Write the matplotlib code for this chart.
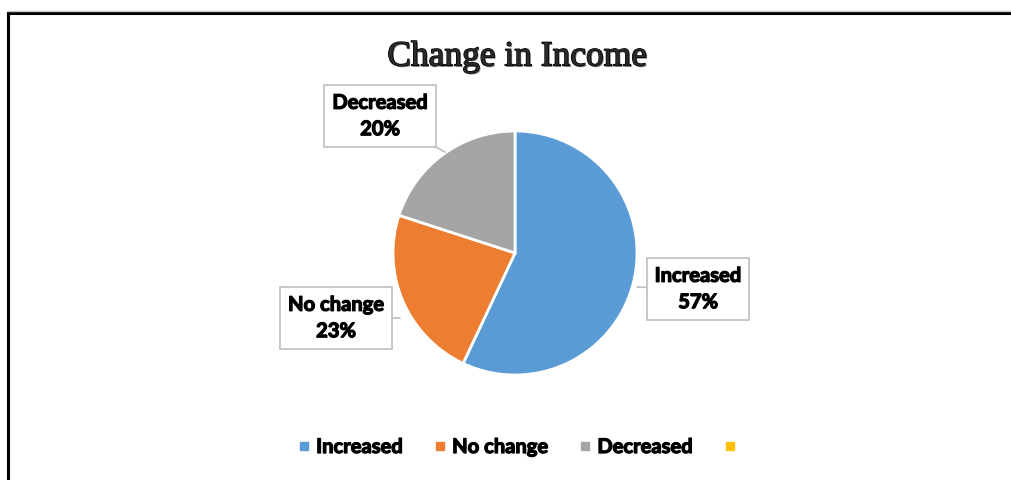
import matplotlib
matplotlib.use("Agg")
import matplotlib.pyplot as plt
import matplotlib.patheffects as pe
from matplotlib.lines import Line2D

# data
categories = ["Increased", "No change", "Decreased"]
values = [57, 23, 20]
colors = ["#5B9BD5", "#ED7D31", "#A5A5A5"]
legend_labels = ["Increased", "No change", "Decreased", ""]
legend_colors = ["#5B9BD5", "#ED7D31", "#A5A5A5", "#FFC000"]

W, H = 1011, 480
fig = plt.figure(figsize=(W / 100, H / 100), dpi=100)

# frame lines (left + top of the chart border)
fig.add_artist(Line2D([8 / W, 8 / W], [0, 1 - 13 / H], color="black", lw=2.2, transform=fig.transFigure))
fig.add_artist(Line2D([8 / W, 1], [1 - 13 / H, 1 - 13 / H], color="black", lw=2.2, transform=fig.transFigure))
fig.add_artist(Line2D([8 / W, 1], [1 - 11 / H, 1 - 11 / H], color="#c8c8c8", lw=1, transform=fig.transFigure))

# pie axes: centre (515, 253) px, radius 122 px
cx, cy, r = 515, 253, 122
ax = fig.add_axes([(cx - r) / W, (H - cy - r) / H, 2 * r / W, 2 * r / H])
ax.pie(values, colors=colors, startangle=90, counterclock=False,
       wedgeprops=dict(edgecolor="white", linewidth=2))
ax.set_xlim(-1, 1)
ax.set_ylim(-1, 1)
ax.axis("off")

heavy = [pe.withStroke(linewidth=0.9, foreground="black")]


def px(x, y):
    return ((x - cx) / r, (cy - y) / r)


# callout labels: (box centre px, point on pie px)
callouts = [
    ((698, 289), (637, 287)),
    ((336, 318), (400, 318)),
    ((380, 116), (445, 152)),
]
for (name, v), (box, tip) in zip(zip(categories, values), callouts):
    t = ax.annotate(f"{name}\n{v}%", xy=px(*tip), xytext=px(*box),
                    ha="center", va="center", fontsize=14.5, fontweight="bold",
                    family="Lato", linespacing=1.4, annotation_clip=False,
                    bbox=dict(boxstyle="square,pad=0.4", fc="white", ec="#bfbfbf", lw=1.2),
                    arrowprops=dict(arrowstyle="-", color="#bfbfbf", lw=1.2,
                                    shrinkA=0, shrinkB=0))
    t.set_path_effects(heavy)

# title with embossed look
fig.text(517 / W, 1 - 57 / H, "Change in Income", ha="center", va="center",
         fontsize=25.5, family="Liberation Serif", color="#2a2a2a",
         path_effects=[pe.SimplePatchShadow(offset=(1.0, -1.0), alpha=0.5),
                       pe.Stroke(linewidth=1.0, foreground="black"), pe.Normal()])

handles = [Line2D([], [], marker="s", ls="none", ms=6, color=c) for c in legend_colors]
leg = fig.legend(handles, legend_labels, loc="center", bbox_to_anchor=(519 / W, 1 - 447 / H),
                 ncol=4, frameon=False, handletextpad=0.2, columnspacing=1.45,
                 handlelength=0.8, prop=dict(family="Lato", weight="bold", size=14.5))
for txt in leg.get_texts():
    txt.set_path_effects(heavy)

fig.savefig("out.png", dpi=100)
